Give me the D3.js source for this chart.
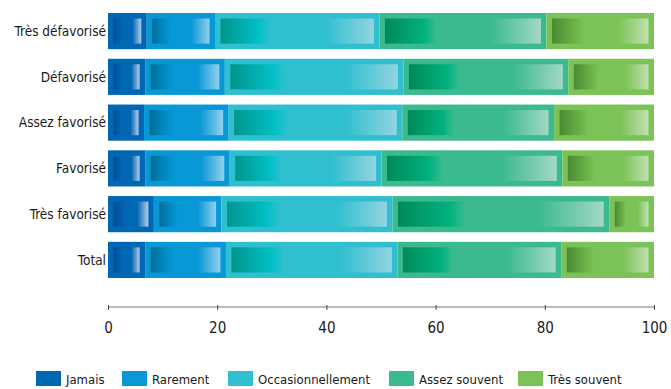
<!DOCTYPE html>
<html>
<head>
<meta charset="utf-8">
<script src="https://cdn.jsdelivr.net/npm/d3@7"></script>
<style>
  html, body { margin: 0; padding: 0; background: #fff; }
  svg text {
    font-family: 'Liberation Sans Narrow', 'DejaVu Sans Condensed', sans-serif;
    font-stretch: condensed;
    fill: #1a1a1a;
  }
</style>
</head>
<body>
<svg id="chart" width="671" height="389"></svg>
<script>
'use strict';

const CATEGORIES = ['Très défavorisé', 'Défavorisé', 'Assez favorisé', 'Favorisé', 'Très favorisé', 'Total'];
const KEYS = ['Jamais', 'Rarement', 'Occasionnellement', 'Assez souvent', 'Très souvent'];

const JAMAIS = [7.1, 6.8, 6.6, 6.8, 8.4, 6.8];
const RAREMENT = [12.5, 14.6, 15.5, 15.5, 12.4, 14.8];
const OCCASIONNELLEMENT = [30.1, 32.7, 31.8, 27.8, 31.3, 31.4];
const ASSEZ_SOUVENT = [30.6, 30.2, 27.8, 33.1, 39.7, 30.0];
const TRES_SOUVENT = [19.7, 15.7, 18.3, 16.8, 8.2, 17.0];

const X_TICKS = [0, 20, 40, 60, 80, 100];

// base colour + inner gradient (dark, bright, base, light)
const COLORS = ['#0067b4', '#0898d6', '#2fbfcf', '#3bba90', '#7bc257'];
const GRADIENTS = [
  ['#004e98', '#0060ae', '#0067b4', '#b4cbe8'],
  ['#006e96', '#0090cc', '#0898d6', '#92d0ef'],
  ['#00958d', '#00c0c6', '#2fbfcf', '#92d4e0'],
  ['#008958', '#00b27e', '#3bba90', '#a3d8c4'],
  ['#4a8a34', '#6cb548', '#7bc257', '#c2e1b2'],
];

const data = CATEGORIES.map((cat, i) => ({
  cat,
  Jamais: JAMAIS[i],
  Rarement: RAREMENT[i],
  Occasionnellement: OCCASIONNELLEMENT[i],
  'Assez souvent': ASSEZ_SOUVENT[i],
  'Très souvent': TRES_SOUVENT[i],
}));

drawChart(data);

function drawChart(data) {
  const svg = d3.select('#chart');
  const margin = { top: 13, right: 17, left: 108 };
  const width = 671 - margin.left - margin.right;

  const stackedData = d3.stack().keys(KEYS)(data);

  const x = d3.scaleLinear().domain([0, 100]).range([margin.left, margin.left + width]);
  const y = d3
    .scaleBand()
    .domain(CATEGORIES)
    .range([margin.top, 278])
    .paddingInner(0.21)
    .paddingOuter(0);

  // gradients
  const defs = svg.append('defs');
  GRADIENTS.forEach((g, i) => {
    const lg = defs
      .append('linearGradient')
      .attr('id', `grad-${i}`)
      .attr('x1', 0).attr('x2', 1).attr('y1', 0).attr('y2', 0);
    [[0, g[0]], [0.25, g[1]], [0.33, g[2]], [0.68, g[2]], [1, g[3]]].forEach(([o, c]) =>
      lg.append('stop').attr('offset', o).attr('stop-color', c)
    );
  });

  const inset = 5.5;
  const layers = svg
    .append('g')
    .selectAll('g')
    .data(stackedData)
    .enter()
    .append('g');

  layers
    .selectAll('rect.outer')
    .data((d) => d)
    .enter()
    .append('rect')
    .attr('class', 'outer')
    .attr('x', (d) => x(d[0]))
    .attr('y', (d) => y(d.data.cat))
    .attr('width', (d) => x(d[1]) - x(d[0]))
    .attr('height', y.bandwidth())
    .attr('fill', function () {
      return COLORS[d3.select(this.parentNode).datum().index];
    });

  layers
    .selectAll('rect.inner')
    .data((d) => d)
    .enter()
    .append('rect')
    .attr('class', 'inner')
    .attr('x', (d) => x(d[0]) + inset)
    .attr('y', (d) => y(d.data.cat) + inset)
    .attr('width', (d) => Math.max(0, x(d[1]) - x(d[0]) - 2 * inset))
    .attr('height', y.bandwidth() - 2 * inset)
    .attr('fill', function () {
      return `url(#grad-${d3.select(this.parentNode).datum().index})`;
    });

  // category labels
  svg
    .append('g')
    .selectAll('text')
    .data(CATEGORIES)
    .enter()
    .append('text')
    .attr('x', margin.left - 2)
    .attr('y', (d) => y(d) + y.bandwidth() / 2)
    .attr('dy', '0.35em')
    .attr('text-anchor', 'end')
    .style('font-size', '13.5px')
    .text((d) => d);

  // X-Axis
  const axis = svg
    .append('g')
    .attr('transform', 'translate(0,307)')
    .call(d3.axisBottom(x).tickValues(X_TICKS).tickSize(4).tickPadding(11));
  axis.select('.domain').attr('stroke', '#777').attr('d', `M${x(0)},0H${x(100)}`);
  axis.selectAll('.tick line').attr('stroke', '#444').attr('y1', -2).attr('y2', 3);
  axis.selectAll('.tick text').style('font-size', '15px');

  // legend
  const legendX = [36, 122, 228, 389, 518];
  const legend = svg
    .append('g')
    .selectAll('g')
    .data(KEYS)
    .enter()
    .append('g')
    .attr('transform', (d, i) => `translate(${legendX[i]},371)`);
  legend
    .append('rect')
    .attr('width', 25)
    .attr('height', 15)
    .attr('fill', (d, i) => COLORS[i]);
  legend
    .append('text')
    .attr('x', 30)
    .attr('y', 8)
    .attr('dy', '0.35em')
    .style('font-size', '13px')
    .text((d) => d);
}
</script>
</body>
</html>
